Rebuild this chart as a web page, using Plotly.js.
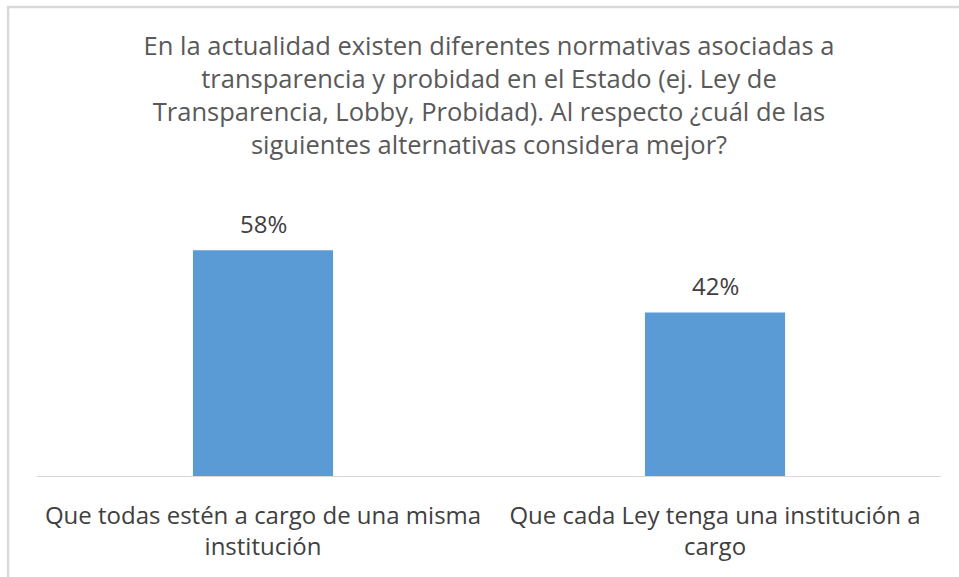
<!DOCTYPE html>
<html>
<head>
<meta charset="utf-8">
<script src="https://cdn.plot.ly/plotly-3.0.1.min.js"></script>
<style>
  html, body { margin: 0; padding: 0; background: #ffffff; }
  #chart { width: 959px; height: 577px; }
</style>
</head>
<body>
<div id="chart"></div>
<script>
var categories = [
  "Que todas estén a cargo de una misma<br>institución",
  "Que cada Ley tenga una institución a<br>cargo"
];
var values = [58, 42];
var valueLabels = ["58%", "42%"];

var chartTitle = "En la actualidad existen diferentes normativas asociadas a<br>" +
  "transparencia y probidad en el Estado (ej. Ley de<br>" +
  "Transparencia, Lobby, Probidad). Al respecto ¿cuál de las<br>" +
  "siguientes alternativas considera mejor?";

var trace = {
  x: categories,
  y: values,
  type: "bar",
  marker: {color: "#5b9bd5"},
  hoverinfo: "none"
};

// value labels sit just above each bar
var labelNotes = categories.map(function (c, i) {
  return {
    x: c, y: values[i], xref: "x", yref: "y",
    text: valueLabels[i], showarrow: false,
    yanchor: "middle", yshift: 27,
    font: {family: "Open Sans", size: 24, color: "#404040"}
  };
});

var layout = {
  width: 959,
  height: 577,
  margin: {l: 37, r: 18, t: 190, b: 101},
  paper_bgcolor: "#ffffff",
  plot_bgcolor: "#ffffff",
  showlegend: false,
  bargap: 0.69,
  title: {
    text: chartTitle,
    font: {family: "Open Sans", size: 25.5, color: "#595959"},
    x: 0.5,
    xref: "paper",
    y: 1 - 55 / 577,
    yref: "container",
    yanchor: "top"
  },
  xaxis: {
    showline: true,
    linecolor: "#d9d9d9",
    linewidth: 1,
    ticks: "",
    tickfont: {family: "Open Sans", size: 24, color: "#404040"},
    ticklabelstandoff: 18,
    fixedrange: true
  },
  yaxis: {
    range: [0, 73.5],
    visible: false,
    showgrid: false,
    zeroline: false,
    fixedrange: true
  },
  annotations: labelNotes,
  shapes: [
    {type: "rect", xref: "paper", yref: "paper",
     x0: -0.032, x1: 1.1, y0: -0.5, y1: 1.64,
     fillcolor: "rgba(0,0,0,0)",
     line: {color: "#d9d9d9", width: 2.5}}
  ]
};

Plotly.newPlot("chart", [trace], layout, {displayModeBar: false, staticPlot: true});
</script>
</body>
</html>
